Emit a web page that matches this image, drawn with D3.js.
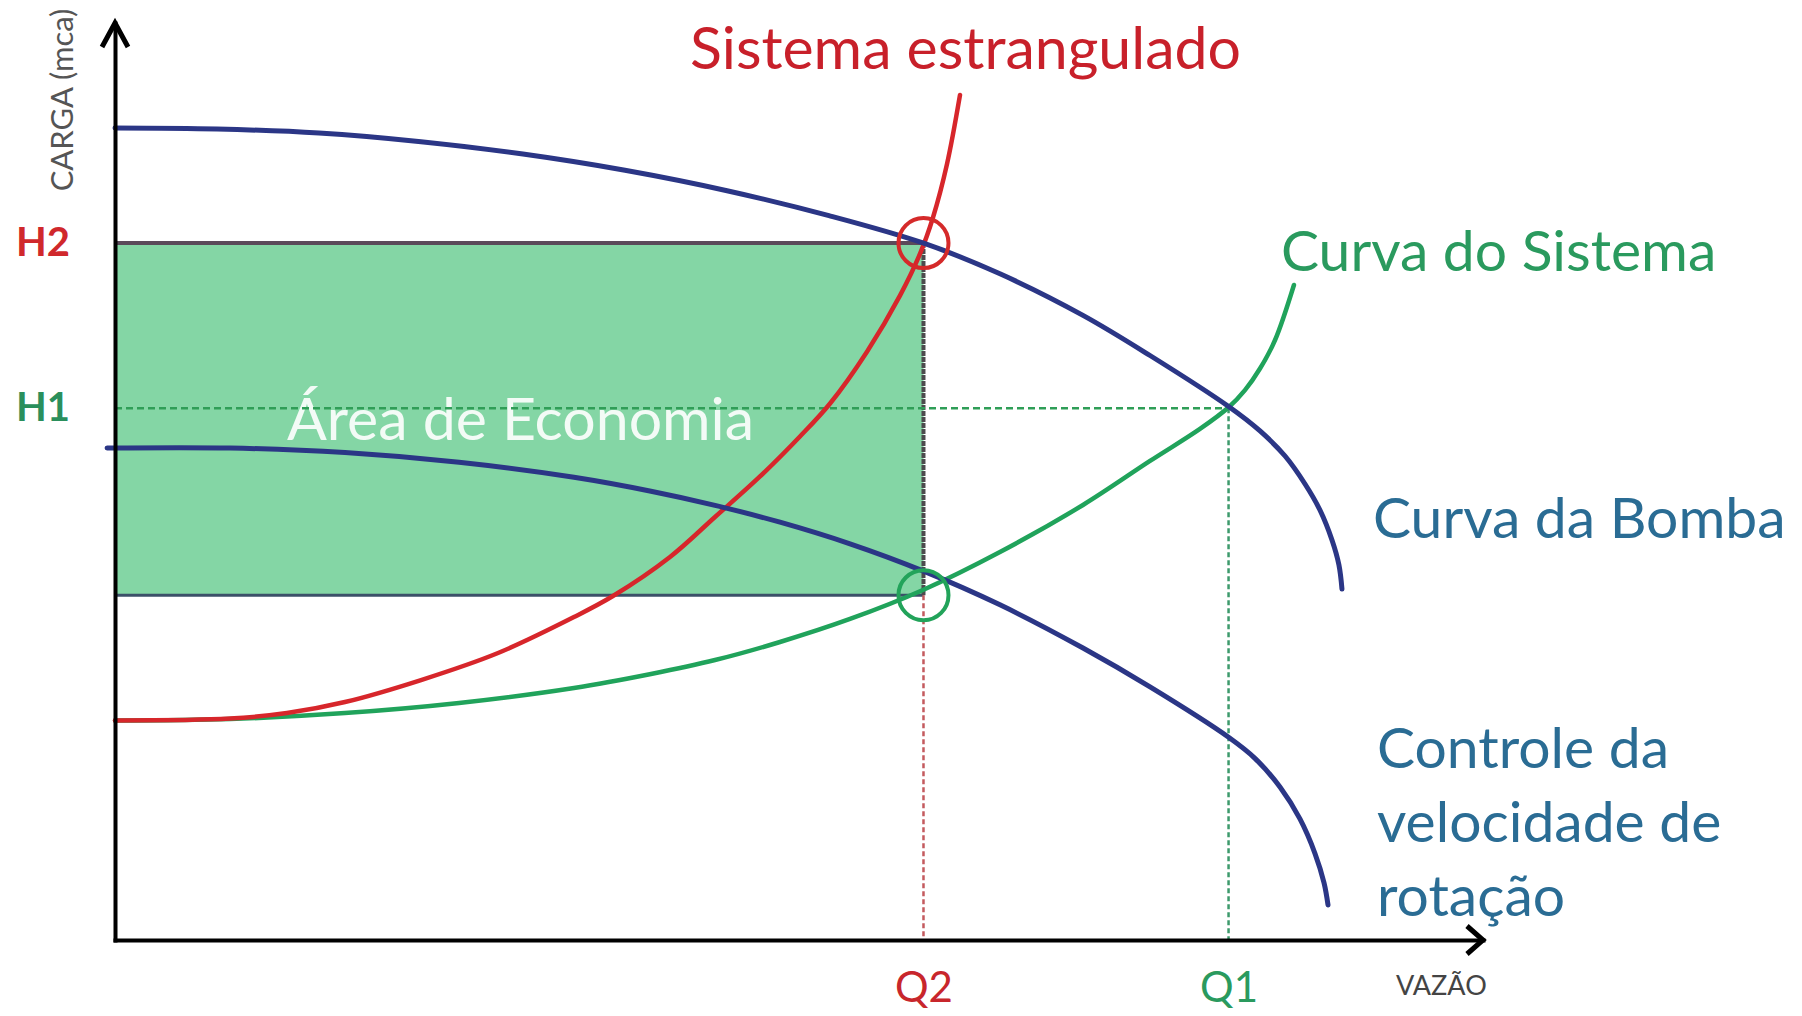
<!DOCTYPE html>
<html>
<head>
<meta charset="utf-8">
<script src="https://cdn.jsdelivr.net/npm/d3@7"></script>
<style>
  body { margin: 0; background: #fff; }
  svg { display: block; font-family: Lato, "Open Sans", sans-serif; }
</style>
</head>
<body>
<svg id="chart"></svg>
<script>
const width = 1802;
const height = 1016;

// curves as [vazão, carga], both in % of the axis length
const pumpCurve = [[0, 88.55], [7.46, 88.44], [14.91, 88.0], [22.37, 87.05], [29.82, 85.71], [37.28, 83.94], [44.74, 81.71], [52.19, 78.99], [59.06, 76.01], [64.69, 72.65], [70.76, 68.12], [75.66, 63.74], [81.43, 58.15], [83.7, 55.51], [85.53, 52.78], [86.99, 49.73], [88.08, 46.89], [88.96, 43.62], [89.47, 40.89], [89.69, 38.28]];
const reducedPumpCurve = [[-0.58, 53.65], [8.41, 53.65], [16.81, 53.15], [25.15, 52.09], [33.55, 50.46], [39.18, 48.94], [43.86, 47.4], [48.61, 45.56], [53.73, 43.2], [59.06, 40.25], [64.69, 36.55], [70.76, 31.84], [75.66, 27.6], [81.43, 22.08], [83.33, 19.81], [85.16, 16.68], [86.62, 13.2], [87.72, 9.43], [88.38, 6.22], [88.67, 3.82]];
const systemCurve = [[0, 23.94], [8.41, 24.1], [16.81, 24.75], [25.15, 25.85], [33.55, 27.48], [39.18, 29.01], [43.86, 30.53], [48.61, 32.5], [53.73, 35.01], [59.06, 38.17], [64.69, 42.31], [70.76, 47.44], [75.66, 52.24], [79.31, 55.73], [81.43, 58.12], [82.6, 59.96], [83.7, 62.32], [84.8, 65.43], [86.18, 71.43]];
const throttledCurve = [[0, 23.94], [8.41, 24.15], [12.57, 24.75], [16.81, 25.95], [22.37, 28.35], [28.0, 31.3], [33.55, 35.22], [36.4, 37.51], [40.57, 41.77], [43.86, 46.13], [47.15, 50.55], [50.07, 54.91], [52.27, 58.51], [54.97, 64.16], [57.38, 70.27], [58.85, 74.85], [59.8, 78.82], [60.82, 84.62], [61.77, 92.15]];

// operating points
const headLabels = ["H2", "H1"];
const headValues = [76.0, 58.0];
const flowLabels = ["Q2", "Q1"];
const flowValues = [59.1, 81.4];
const reducedHead = 37.6; // reduced speed point, bottom of the economy area

const labelColor = { H2: "#d0282c", H1: "#2a8f5c", Q2: "#c8262c", Q1: "#2a9a5e" };

const x = d3.scaleLinear().domain([0, 100]).range([115, 1483]);
const y = d3.scaleLinear().domain([0, 100]).range([940, 23]);

const svg = d3
  .select("#chart")
  .attr("width", width)
  .attr("height", height)
  .attr("viewBox", [0, 0, width, height]);

svg.append("rect").attr("width", width).attr("height", height).attr("fill", "#fff");

const [q2, q1] = flowValues;
const [h2, h1] = headValues;

// área de economia
svg
  .append("rect")
  .attr("x", x(0))
  .attr("y", y(h2))
  .attr("width", x(q2) - x(0))
  .attr("height", y(reducedHead) - y(h2))
  .attr("fill", "#84d6a5");

svg
  .append("text")
  .attr("x", 287)
  .attr("y", 440)
  .attr("fill", "#f3fbf6")
  .attr("font-size", 59)
  .text("Área de Economia");

svg
  .append("line")
  .attr("x1", x(0))
  .attr("x2", x(q2))
  .attr("y1", y(h2))
  .attr("y2", y(h2))
  .attr("stroke", "#5b4a5a")
  .attr("stroke-width", 4);

svg
  .append("line")
  .attr("x1", x(0))
  .attr("x2", x(q2))
  .attr("y1", y(reducedHead))
  .attr("y2", y(reducedHead))
  .attr("stroke", "#3b5068")
  .attr("stroke-width", 3);

svg
  .append("line")
  .attr("x1", x(q2))
  .attr("x2", x(q2))
  .attr("y1", y(h2))
  .attr("y2", y(reducedHead))
  .attr("stroke", "#4d4b4e")
  .attr("stroke-width", 4)
  .attr("stroke-dasharray", "5,1");

// guide lines
svg
  .append("line")
  .attr("x1", x(0))
  .attr("x2", x(q1))
  .attr("y1", y(h1))
  .attr("y2", y(h1))
  .attr("stroke", "#2f9e57")
  .attr("stroke-width", 2.5)
  .attr("stroke-dasharray", "7,4");

svg
  .append("line")
  .attr("x1", x(q1))
  .attr("x2", x(q1))
  .attr("y1", y(h1))
  .attr("y2", y(0))
  .attr("stroke", "#3d9a6c")
  .attr("stroke-width", 2.5)
  .attr("stroke-dasharray", "5,3");

svg
  .append("line")
  .attr("x1", x(q2))
  .attr("x2", x(q2))
  .attr("y1", y(reducedHead))
  .attr("y2", y(0))
  .attr("stroke", "#c45a5e")
  .attr("stroke-width", 2.5)
  .attr("stroke-dasharray", "5,3");

// curves
const line = d3
  .line()
  .x((d) => x(d[0]))
  .y((d) => y(d[1]))
  .curve(d3.curveCatmullRom.alpha(0.5));

const curves = [
  { data: systemCurve, color: "#20a35b", w: 4.5 },
  { data: throttledCurve, color: "#d7262b", w: 4.5 },
  { data: reducedPumpCurve, color: "#2b3686", w: 5 },
  { data: pumpCurve, color: "#2b3686", w: 5 },
];

svg
  .selectAll(".curve")
  .data(curves)
  .join("path")
  .attr("class", "curve")
  .attr("fill", "none")
  .attr("stroke", (d) => d.color)
  .attr("stroke-width", (d) => d.w)
  .attr("stroke-linecap", "round")
  .attr("d", (d) => line(d.data));

// operating point markers
svg
  .append("circle")
  .attr("cx", x(q2))
  .attr("cy", y(h2))
  .attr("r", 25)
  .attr("fill", "none")
  .attr("stroke", "#d52a2a")
  .attr("stroke-width", 4);

svg
  .append("circle")
  .attr("cx", x(q2))
  .attr("cy", y(reducedHead))
  .attr("r", 25)
  .attr("fill", "none")
  .attr("stroke", "#22a35a")
  .attr("stroke-width", 4);

// axes
const xAxisG = svg
  .append("g")
  .attr("transform", `translate(0,${y(0)})`)
  .call(
    d3
      .axisBottom(x)
      .tickValues(flowValues)
      .tickFormat((d, i) => flowLabels[i])
      .tickSize(0)
      .tickSizeOuter(0)
      .tickPadding(32)
  )
  .attr("font-family", null)
  .attr("font-size", 42);

xAxisG.selectAll("text").attr("fill", (d, i) => labelColor[flowLabels[i]]);

const yAxisG = svg
  .append("g")
  .attr("transform", `translate(${x(0)},0)`)
  .call(
    d3
      .axisLeft(y)
      .tickValues(headValues)
      .tickFormat((d, i) => headLabels[i])
      .tickSize(0)
      .tickSizeOuter(0)
      .tickPadding(45)
  )
  .attr("font-family", null)
  .attr("font-size", 40)
  .attr("font-weight", "bold");

yAxisG.selectAll("text").attr("fill", (d, i) => labelColor[headLabels[i]]);

svg
  .selectAll(".domain")
  .attr("stroke", "#000")
  .attr("stroke-width", 4)
  .attr("stroke-linecap", "square");

// arrow heads
svg
  .append("path")
  .attr("d", `M${x(0) - 13},${y(100) + 24}L${x(0)},${y(100)}L${x(0) + 13},${y(100) + 24}`)
  .attr("fill", "none")
  .attr("stroke", "#000")
  .attr("stroke-width", 5);

svg
  .append("path")
  .attr("d", `M${x(100) - 16},${y(0) - 14}L${x(100)},${y(0)}L${x(100) - 16},${y(0) + 14}`)
  .attr("fill", "none")
  .attr("stroke", "#000")
  .attr("stroke-width", 5);

// axis titles
svg
  .append("text")
  .attr("transform", "translate(73,100) rotate(-90)")
  .attr("text-anchor", "middle")
  .attr("fill", "#555")
  .attr("font-size", 31)
  .text("CARGA (mca)");

svg
  .append("text")
  .attr("x", 1396)
  .attr("y", 995)
  .attr("fill", "#444")
  .attr("font-size", 27)
  .text("VAZÃO");

// curve labels
svg
  .append("text")
  .attr("x", 690)
  .attr("y", 69)
  .attr("fill", "#c8202a")
  .attr("font-size", 59)
  .text("Sistema estrangulado");

svg
  .append("text")
  .attr("x", 1281)
  .attr("y", 271)
  .attr("fill", "#2a9a5e")
  .attr("font-size", 57)
  .text("Curva do Sistema");

svg
  .append("text")
  .attr("x", 1373)
  .attr("y", 538)
  .attr("fill", "#2a6c94")
  .attr("font-size", 57)
  .text("Curva da Bomba");

svg
  .append("text")
  .attr("x", 1377)
  .attr("y", 768)
  .attr("fill", "#2a6c94")
  .attr("font-size", 57)
  .selectAll("tspan")
  .data(["Controle da", "velocidade de", "rotação"])
  .join("tspan")
  .attr("x", 1377)
  .attr("dy", (d, i) => (i ? 74 : 0))
  .text((d) => d);
</script>
</body>
</html>
